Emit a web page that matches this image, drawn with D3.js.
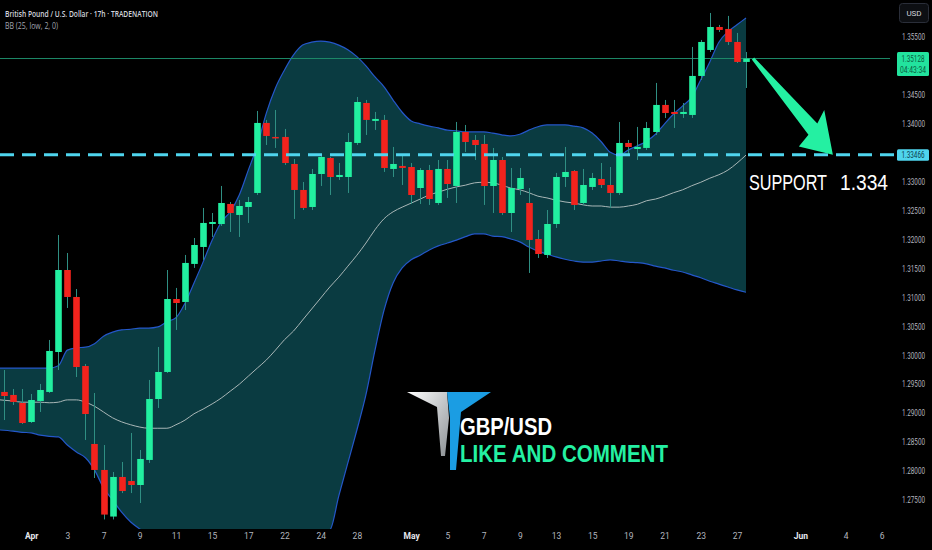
<!DOCTYPE html>
<html><head><meta charset="utf-8">
<script src="https://cdn.jsdelivr.net/npm/d3@7"></script>
<style>html,body{margin:0;padding:0;background:#000;overflow:hidden}svg{display:block}</style>
</head><body><svg id="c" width="932" height="550"></svg>
<script>
// ---------- DATA ----------
const opens  = [1.29367,1.29315,1.29176,1.28848,1.29211,1.29367,1.30057,1.31474,1.31008,1.29815,1.28468,1.28019,1.27214,1.27898,1.27828,1.27759,1.28192,1.29245,1.29712,1.30973,1.30922,1.31579,1.31872,1.32269,1.32269,1.32615,1.32425,1.32563,1.32805,1.34015,1.33773,1.33773,1.33306,1.32857,1.32563,1.33133,1.33410,1.33081,1.33081,1.33669,1.34360,1.34050,1.34067,1.33220,1.33272,1.33254,1.32891,1.33202,1.32632,1.33220,1.32926,1.33859,1.33721,1.33652,1.32926,1.33375,1.32459,1.32874,1.32632,1.32010,1.31734,1.32269,1.33081,1.33185,1.32632,1.32909,1.33047,1.32943,1.32805,1.33669,1.33565,1.33583,1.33859,1.34326,1.34205,1.34170,1.34153,1.34827,1.35276,1.35673,1.35639,1.35414,1.35069];
const highs  = [1.29746,1.29418,1.29418,1.29332,1.29505,1.30265,1.32079,1.31768,1.31146,1.29850,1.29349,1.28450,1.27984,1.28157,1.28658,1.28364,1.29574,1.30144,1.31474,1.31164,1.31734,1.32027,1.32546,1.32459,1.32926,1.32649,1.32684,1.32736,1.34222,1.34067,1.34239,1.33911,1.33392,1.32995,1.33220,1.33462,1.33427,1.33323,1.33842,1.34464,1.34412,1.34205,1.34153,1.33600,1.33462,1.33323,1.33237,1.33289,1.33375,1.33375,1.34032,1.33980,1.33807,1.33807,1.33583,1.33427,1.33237,1.33237,1.32891,1.32166,1.32511,1.33151,1.33600,1.33202,1.33220,1.33151,1.33323,1.33254,1.34032,1.33721,1.33946,1.34032,1.34706,1.34412,1.34412,1.34360,1.35328,1.35449,1.35915,1.35708,1.35864,1.35570,1.35241];
const lows   = [1.28882,1.29142,1.28813,1.28830,1.29021,1.29349,1.29746,1.30818,1.29625,1.28537,1.27880,1.27164,1.27164,1.27620,1.27620,1.27448,1.28140,1.29090,1.29694,1.30438,1.30783,1.31510,1.31648,1.32045,1.32235,1.32131,1.32045,1.32287,1.32770,1.33634,1.33583,1.33289,1.32356,1.32511,1.32511,1.32926,1.32770,1.33030,1.32805,1.33634,1.33807,1.33894,1.33168,1.33081,1.32943,1.32615,1.32615,1.32598,1.32598,1.32719,1.32632,1.33513,1.33375,1.32598,1.32459,1.32425,1.32131,1.32770,1.31423,1.31682,1.31682,1.32200,1.32909,1.32511,1.32598,1.32857,1.32891,1.32546,1.32770,1.33462,1.33375,1.33548,1.33807,1.34101,1.33928,1.34101,1.34101,1.34758,1.35241,1.35587,1.35362,1.35051,1.34619];
const closes = [1.29297,1.29194,1.28830,1.29228,1.29401,1.30075,1.31474,1.31008,1.29798,1.28986,1.28019,1.27248,1.27898,1.27655,1.27759,1.28209,1.29245,1.29712,1.30973,1.30904,1.31596,1.31906,1.32287,1.32304,1.32632,1.32459,1.32580,1.32649,1.34015,1.33790,1.33755,1.33323,1.32857,1.32546,1.33133,1.33427,1.33081,1.33116,1.33686,1.34377,1.34067,1.34084,1.33237,1.33306,1.33237,1.32770,1.33202,1.32701,1.33220,1.32960,1.33859,1.33686,1.33634,1.32926,1.33375,1.32459,1.32891,1.33064,1.31993,1.31751,1.32269,1.33081,1.33168,1.32598,1.32943,1.33064,1.32943,1.32805,1.33669,1.33600,1.33600,1.33928,1.34326,1.34187,1.34170,1.34205,1.34827,1.35414,1.35673,1.35622,1.35414,1.35069,1.35128];

const bbUpper = [1.2978,1.2978,1.2978,1.2978,1.2978,1.2978,1.2982,1.3009,1.3013,1.3014,1.3020,1.3033,1.3040,1.3044,1.3045,1.3047,1.3047,1.3049,1.3058,1.3065,1.3090,1.3125,1.3161,1.3199,1.3230,1.3248,1.3277,1.3320,1.3363,1.3419,1.3462,1.3493,1.3519,1.3536,1.3541,1.3543,1.3541,1.3536,1.3528,1.3516,1.3500,1.3481,1.3464,1.3441,1.3420,1.3405,1.3400,1.3396,1.3393,1.3389,1.3388,1.3386,1.3386,1.3386,1.3384,1.3381,1.3379,1.3382,1.3389,1.3395,1.3398,1.3398,1.3398,1.3396,1.3393,1.3384,1.3369,1.3351,1.3346,1.3355,1.3362,1.3370,1.3382,1.3400,1.3417,1.3431,1.3446,1.3476,1.3507,1.3541,1.3559,1.3571,1.3583];
const bbBasis = [1.2923,1.2921,1.2919,1.2919,1.2919,1.2918,1.2919,1.2923,1.2923,1.2919,1.2912,1.2902,1.2892,1.2885,1.2880,1.2876,1.2874,1.2874,1.2874,1.2880,1.2888,1.2899,1.2907,1.2916,1.2926,1.2938,1.2950,1.2964,1.2978,1.2992,1.3009,1.3027,1.3042,1.3061,1.3080,1.3099,1.3118,1.3135,1.3154,1.3173,1.3194,1.3217,1.3236,1.3248,1.3256,1.3263,1.3270,1.3277,1.3282,1.3287,1.3291,1.3294,1.3298,1.3299,1.3298,1.3294,1.3289,1.3286,1.3281,1.3275,1.3272,1.3268,1.3265,1.3263,1.3260,1.3258,1.3258,1.3256,1.3256,1.3258,1.3261,1.3267,1.3270,1.3275,1.3281,1.3286,1.3293,1.3299,1.3306,1.3312,1.3320,1.3332,1.3346];
const bbLower = [1.2871,1.2869,1.2867,1.2866,1.2862,1.2860,1.2859,1.2845,1.2833,1.2823,1.2802,1.2771,1.2750,1.2729,1.2712,1.2700,1.2690,1.2684,1.2681,1.2677,1.2672,1.2664,1.2655,1.2650,1.2646,1.2646,1.2646,1.2646,1.2650,1.2653,1.2658,1.2664,1.2671,1.2679,1.2688,1.2695,1.2698,1.2757,1.2814,1.2871,1.2932,1.3009,1.3078,1.3125,1.3151,1.3165,1.3173,1.3182,1.3189,1.3194,1.3199,1.3205,1.3210,1.3210,1.3206,1.3205,1.3201,1.3196,1.3187,1.3180,1.3175,1.3170,1.3166,1.3163,1.3161,1.3161,1.3163,1.3165,1.3163,1.3161,1.3160,1.3158,1.3154,1.3151,1.3147,1.3144,1.3139,1.3134,1.3128,1.3123,1.3118,1.3113,1.3109];

const priceTicks = [1.275,1.28,1.285,1.29,1.295,1.30,1.305,1.31,1.315,1.32,1.325,1.33,1.335,1.34,1.345,1.35,1.355];
const timeTickIdx    = [3,7,11,15,19,23,27,31,35,39,45,49,53,57,61,65,69,73,77,81,88,93,97];
const timeTickLabels = ["Apr","3","7","9","11","15","17","22","24","28","May","5","7","9","13","15","19","21","23","27","Jun","4","6"];
const monthLabels = ["Apr","May","Jun"];

const supportLevel = 1.33466;
const lastPrice = 1.35128;
const countdown = "04:43:34";
const headerTitle = "British Pound / U.S. Dollar · 17h · TRADENATION";
const headerStudy = "BB (25, low, 2, 0)";
const supportWord = "SUPPORT";
const supportValue = "1.334";
const logoLine1 = "GBP/USD";
const logoLine2 = "LIKE AND COMMENT";

// ---------- CHART ----------
const svg = d3.select("#c");
const W = 932, H = 550, plotR = 890, plotB = 529;
const x = d3.scaleLinear().domain([0, 82]).range([4, 746]);
const y = d3.scaleLinear().domain([1.275, 1.355]).range([500, 37]);

const UP = "#22efa0", DOWN = "#f2231d", WICK = "#2f8f83";
const NARROW = "'Liberation Sans Narrow', 'Liberation Sans', sans-serif";

svg.append("rect").attr("width", W).attr("height", H).attr("fill", "#000");

const defs = svg.append("defs");
defs.append("clipPath").attr("id", "plot").append("rect")
  .attr("x", 0).attr("y", 0).attr("width", plotR).attr("height", plotB);
const lg = defs.append("linearGradient").attr("id", "wg").attr("x1", 0).attr("y1", 0).attr("x2", 1).attr("y2", 1);
lg.append("stop").attr("offset", "0%").attr("stop-color", "#ffffff");
lg.append("stop").attr("offset", "100%").attr("stop-color", "#8d9296");

const g = svg.append("g").attr("clip-path", "url(#plot)");
const idx = d3.range(closes.length);
const bx = i => i === 0 ? 0 : x(i);

// Bollinger band fill
g.append("path")
  .attr("d", d3.area().x(bx).y0(i => y(bbLower[i])).y1(i => y(bbUpper[i])).curve(d3.curveMonotoneX)(idx))
  .attr("fill", "#0a3b41");
const bandLine = arr => d3.line().x(bx).y(i => y(arr[i])).curve(d3.curveMonotoneX)(idx);
g.append("path").attr("d", bandLine(bbUpper)).attr("fill", "none").attr("stroke", "#2457c9").attr("stroke-width", 1.2);
g.append("path").attr("d", bandLine(bbLower)).attr("fill", "none").attr("stroke", "#2457c9").attr("stroke-width", 1.2);
g.append("path").attr("d", bandLine(bbBasis)).attr("fill", "none").attr("stroke", "#a9b7b7").attr("stroke-width", 1);

// current price line
g.append("line").attr("x1", 0).attr("x2", 897).attr("y1", y(lastPrice)).attr("y2", y(lastPrice))
  .attr("stroke", "#1d8a68").attr("stroke-width", 1);

// support dashed line
svg.append("line").attr("x1", 0).attr("x2", 896).attr("y1", y(supportLevel)).attr("y2", y(supportLevel))
  .attr("stroke", "#4fd5ee").attr("stroke-width", 3).attr("stroke-dasharray", "14 8");

// candles
const bw = 6.6;
const cg = g.append("g");
cg.selectAll("line.w").data(idx).join("line").attr("class", "w")
  .attr("x1", i => Math.round(x(i)) + 0.5).attr("x2", i => Math.round(x(i)) + 0.5)
  .attr("y1", i => y(highs[i])).attr("y2", i => y(lows[i]))
  .attr("stroke", WICK).attr("stroke-width", 1);
cg.selectAll("rect.b").data(idx).join("rect").attr("class", "b")
  .attr("x", i => Math.round(x(i)) + 0.5 - bw / 2)
  .attr("width", bw)
  .attr("y", i => y(Math.max(opens[i], closes[i])))
  .attr("height", i => Math.max(1.5, Math.abs(y(opens[i]) - y(closes[i]))))
  .attr("fill", i => closes[i] >= opens[i] ? UP : DOWN);

// arrow annotation (from last close down to support)
(function () {
  const x0 = x(82) + 7, y0 = y(lastPrice);
  const x1 = x(91.6), y1 = y(supportLevel);
  const dx = x1 - x0, dy = y1 - y0, L = Math.hypot(dx, dy);
  const ux = dx / L, uy = dy / L, nx = -uy, ny = ux;
  const P = (a, c) => [x0 + ux * a + nx * c, y0 + uy * a + ny * c];
  const pts = [P(0, -1.5), P(L - 34, -8), P(L - 40, -22), P(L, 0), P(L - 28, 21), P(L - 31, 6), P(0, 1.5)];
  svg.append("polygon").attr("points", pts.map(p => p.join(",")).join(" ")).attr("fill", "#24f0a2");
})();

// support text (two words, stretched vertically to match the reference glyph height)
svg.append("text").text(supportWord)
  .attr("transform", "translate(749,190) scale(1,1.18)")
  .attr("font-family", NARROW).attr("font-size", 19)
  .attr("fill", "#ffffff").attr("textLength", 78).attr("lengthAdjust", "spacingAndGlyphs");
svg.append("text").text(supportValue)
  .attr("transform", "translate(840,190) scale(1,1.18)")
  .attr("font-family", NARROW).attr("font-size", 19)
  .attr("fill", "#ffffff").attr("textLength", 48).attr("lengthAdjust", "spacingAndGlyphs");

// logo
svg.append("polygon").attr("points", "407,392 447,392 449,418 445,456 441,456 437,407").attr("fill", "url(#wg)");
svg.append("polygon").attr("points", "447,392 491,392 461,412 456,470 450,470 450,418").attr("fill", "#1b9de3");
svg.append("text").text(logoLine1).attr("x", 460).attr("y", 435)
  .attr("font-family", NARROW).attr("font-weight", 700).attr("font-size", 23)
  .attr("fill", "#ffffff").attr("textLength", 92).attr("lengthAdjust", "spacingAndGlyphs");
svg.append("text").text(logoLine2).attr("x", 460).attr("y", 462)
  .attr("font-family", NARROW).attr("font-weight", 700).attr("font-size", 23)
  .attr("fill", "#24f0a2").attr("textLength", 208).attr("lengthAdjust", "spacingAndGlyphs");

// header
svg.append("text").text(headerTitle).attr("x", 5).attr("y", 17)
  .attr("font-family", "'Open Sans', Roboto").attr("font-weight", 600).attr("font-size", 9.5)
  .attr("fill", "#d1d4dc").attr("textLength", 153).attr("lengthAdjust", "spacingAndGlyphs");
svg.append("text").text(headerStudy).attr("x", 5).attr("y", 29)
  .attr("font-family", "'Open Sans', Roboto").attr("font-size", 9.5)
  .attr("fill", "#a3a6af").attr("textLength", 53).attr("lengthAdjust", "spacingAndGlyphs");

// price axis
const labelYs = [y(lastPrice) + 2, y(supportLevel)];
const shownTicks = priceTicks.filter(p => labelYs.every(ly => Math.abs(y(p) - ly) > 12));
const ya = svg.append("g").attr("transform", `translate(902,0)`)
  .call(d3.axisRight(y).tickValues(shownTicks).tickFormat(d3.format(".5f")).tickSize(0).tickPadding(0));
ya.select(".domain").remove();
ya.selectAll("text").attr("fill", "#b2b5be").attr("font-size", 8.5).attr("font-family", "Roboto")
  .attr("text-anchor", "start").attr("textLength", 23).attr("lengthAdjust", "spacingAndGlyphs");

// time axis
const xa = svg.append("g").attr("transform", `translate(0,533)`)
  .call(d3.axisBottom(x).tickValues(timeTickIdx).tickFormat((d, i) => timeTickLabels[i]).tickSize(0).tickPadding(0));
xa.select(".domain").remove();
xa.selectAll("text").attr("fill", d => monthLabels.includes(timeTickLabels[timeTickIdx.indexOf(d)]) ? "#e6e8ee" : "#b2b5be")
  .attr("font-weight", d => monthLabels.includes(timeTickLabels[timeTickIdx.indexOf(d)]) ? 700 : 400)
  .attr("font-size", 8.5).attr("font-family", "Roboto").attr("dy", "0.71em");

// USD box
svg.append("rect").attr("x", 899.5).attr("y", 3.5).attr("width", 29).attr("height", 19).attr("rx", 3)
  .attr("fill", "#0d0f13").attr("stroke", "#2a2e39");
svg.append("text").text("USD").attr("x", 914).attr("y", 16).attr("text-anchor", "middle")
  .attr("font-family", "Roboto").attr("font-size", 8).attr("fill", "#d1d4dc");

// last price label
const ly = y(lastPrice);
svg.append("rect").attr("x", 897).attr("y", ly - 6.5).attr("width", 32).attr("height", 24).attr("rx", 1.5).attr("fill", "#22e39e");
svg.append("text").text(d3.format(".5f")(lastPrice)).attr("x", 913).attr("y", ly + 3).attr("text-anchor", "middle")
  .attr("font-family", "Roboto").attr("font-size", 8.5).attr("fill", "#0a5c40").attr("textLength", 23).attr("lengthAdjust", "spacingAndGlyphs");
svg.append("text").text(countdown).attr("x", 913).attr("y", ly + 14).attr("text-anchor", "middle")
  .attr("font-family", "Roboto").attr("font-size", 8.5).attr("fill", "#0a5c40").attr("textLength", 26).attr("lengthAdjust", "spacingAndGlyphs");

// support label
const sy = y(supportLevel);
svg.append("rect").attr("x", 897).attr("y", sy - 5.5).attr("width", 32).attr("height", 11.5).attr("rx", 1.5).attr("fill", "#4fd5ee");
svg.append("text").text(d3.format(".5f")(supportLevel)).attr("x", 913).attr("y", sy + 3).attr("text-anchor", "middle")
  .attr("font-family", "Roboto").attr("font-size", 8.5).attr("fill", "#0b3d4a").attr("textLength", 23).attr("lengthAdjust", "spacingAndGlyphs");
</script></body></html>
